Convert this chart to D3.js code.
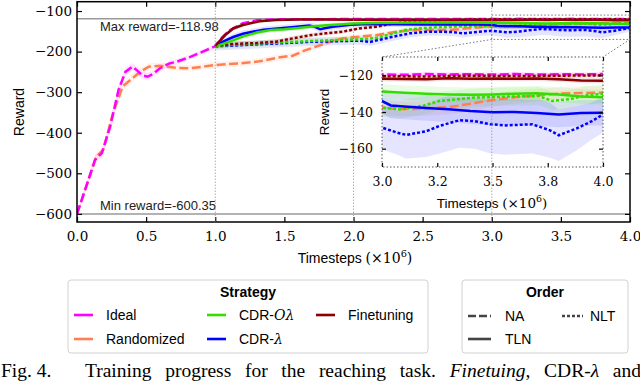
<!DOCTYPE html>
<html>
<head>
<meta charset="utf-8">
<script src="https://cdn.jsdelivr.net/npm/d3@7"></script>
<style>
  body { margin: 0; background: #fff; }
  svg { display: block; }
</style>
</head>
<body>
<svg width="640" height="381"></svg>
<script>
// [timesteps (x1e6), mean reward, spread]
const ideal = [[0.00,-600,4],[0.05,-549,8],[0.10,-498,10],[0.13,-467,10],[0.18,-450,10],[0.24,-385,12],[0.30,-295,12],[0.35,-250,10],[0.40,-237,9],[0.43,-245,9],[0.47,-258,9],[0.51,-262,9],[0.55,-255,8],[0.60,-241,8],[0.67,-229,7],[0.72,-225,7],[0.82,-213,6],[0.91,-200,6],[1.00,-187,5],[1.05,-165,4],[1.10,-148,4],[1.20,-130,3],[1.30,-123,2],[1.40,-121,2],[1.60,-120,1.5],[1.80,-120,1.5],[2.00,-119.6,1.5],[2.50,-119.5,1.5],[3.00,-119.5,1.2],[3.10,-119.7,1.2],[3.20,-119.3,1.2],[3.30,-119.5,1.2],[3.40,-119.4,1.2],[3.50,-119.6,1.2],[3.60,-119.3,1.2],[3.70,-119.6,1.2],[3.80,-119.4,1.2],[3.90,-119.5,1.2],[4.00,-119.3,1.2]];
const randomized = [[0.00,-600,4],[0.07,-530,8],[0.14,-459,10],[0.19,-442,10],[0.26,-352,12],[0.33,-286,12],[0.40,-266,10],[0.46,-249,9],[0.52,-237,8],[0.60,-235,8],[0.72,-240,8],[0.82,-241,8],[0.91,-237,8],[1.00,-233,8],[1.18,-229,8],[1.32,-224,8],[1.45,-215,8],[1.56,-210,8],[1.65,-197,8],[1.76,-184,7],[1.85,-173,7],[1.93,-167,6],[2.05,-163,6],[2.17,-159,6],[2.31,-151,5],[2.46,-146,5],[2.60,-147,5],[2.72,-146,5],[2.85,-142,5],[3.00,-137.6,4],[3.10,-138.5,4],[3.20,-138,4],[3.30,-137.4,4],[3.40,-135.5,4],[3.50,-133.5,3.5],[3.60,-132,3.5],[3.70,-131,3.5],[3.80,-130,3.5],[3.90,-129.6,3.5],[4.00,-129.5,3.5]];
const finetuneTLN = [[1.00,-186,6],[1.07,-160,6],[1.13,-143,5],[1.20,-134.5,4],[1.32,-125,3],[1.44,-122,2],[1.60,-121,2],[1.80,-121,2],[2.00,-121.5,2],[2.50,-121.5,2],[3.00,-121.8,1.5],[3.10,-122,1.5],[3.20,-122.1,1.5],[3.30,-121.6,1.5],[3.40,-121.8,1.5],[3.50,-121.7,1.5],[3.60,-121.9,1.5],[3.70,-121.7,1.5],[3.80,-122.2,1.5],[3.90,-122.8,1.5],[4.00,-123,1.5]];
const finetuneNLT = [[1.00,-186,6],[1.10,-182,6],[1.20,-180,6],[1.30,-179,6],[1.44,-175.5,6],[1.55,-168,6],[1.68,-160,5],[1.80,-155,5],[1.92,-151,5],[2.04,-143,4],[2.17,-138.6,4],[2.29,-130.5,3],[2.41,-126.4,3],[2.53,-124,2],[2.70,-122,2],[2.85,-121,1.5],[3.00,-120.5,1.2],[3.20,-120.6,1.2],[3.40,-120.2,1.2],[3.60,-120.4,1.2],[3.80,-120.2,1.2],[4.00,-120,1.2]];
const cdrOTLN = [[1.00,-187,8],[1.10,-176,8],[1.20,-163,7],[1.30,-153,7],[1.40,-147,6],[1.50,-145,6],[1.60,-142,6],[1.70,-138,5],[1.80,-135,5],[1.90,-133,5],[2.00,-131,4],[2.20,-129,4],[2.50,-128.5,4],[2.80,-128.5,4],[3.00,-128.8,4],[3.10,-129.5,4],[3.20,-130,4],[3.30,-130.4,4],[3.40,-130.6,4],[3.50,-130.4,4],[3.60,-130,4],[3.70,-129.8,4],[3.80,-130.5,4],[3.90,-131.5,4],[4.00,-132,4]];
const cdrONLT = [[1.00,-186,8],[1.20,-182,8],[1.44,-178,8],[1.68,-174,8],[1.92,-171,8],[2.04,-170,8],[2.17,-166,7],[2.29,-155,7],[2.37,-147,6],[2.48,-142.7,6],[2.60,-140,5],[2.72,-138.6,5],[2.85,-137.5,5],[3.00,-137.6,5],[3.08,-138.6,5],[3.19,-136.4,5],[3.26,-134,5],[3.41,-132.2,5],[3.56,-131.6,5],[3.71,-131.3,5],[3.77,-134,5],[3.85,-133,5],[3.92,-131,5],[4.00,-130,5]];
const cdrTLN = [[1.00,-186,8],[1.06,-175,8],[1.13,-164,8],[1.20,-156,8],[1.27,-151,8],[1.35,-146,8],[1.47,-142.5,8],[1.57,-139.5,8],[1.68,-135.5,8],[1.72,-139,8],[1.76,-145,8],[1.80,-142,8],[1.85,-138.5,8],[1.98,-134,7],[2.10,-132,7],[2.30,-132.5,7],[2.50,-133,7],[2.70,-133,7],[2.90,-133.5,7],[3.00,-134,7],[3.04,-136.4,7],[3.10,-137,7],[3.20,-137.8,7],[3.30,-138.5,7],[3.40,-139.5,7],[3.50,-140.2,7],[3.60,-140,7],[3.70,-140.6,7],[3.80,-141.3,7],[3.90,-140.5,7],[4.00,-140.4,7]];
const cdrNLT = [[1.00,-187,10],[1.20,-184,10],[1.44,-180,10],[1.68,-176,10],[1.80,-175,10],[1.92,-174,10],[2.04,-173,10],[2.12,-176,10],[2.20,-170,10],[2.29,-163,10],[2.41,-155,10],[2.53,-151,10],[2.65,-151,10],[2.72,-152,10],[2.79,-155,10],[2.91,-151,10],[3.00,-148.5,12],[3.07,-151.3,12],[3.11,-152.5,13],[3.20,-150.5,14],[3.26,-147.6,15],[3.35,-144.5,15],[3.42,-145,15],[3.49,-146.7,16],[3.56,-147.3,16],[3.68,-146.7,16],[3.76,-150,15],[3.80,-152.7,14],[3.88,-149,12],[3.95,-145,10],[4.00,-141.3,10]];

const maxReward = -118.98, minReward = -600.35;
const xTicks = [0, 0.5, 1, 1.5, 2, 2.5, 3, 3.5, 4];
const yTicks = [-100, -200, -300, -400, -500, -600];
const insetXTicks = [3, 3.25, 3.5, 3.75, 4];
const insetXLabels = ["3.0", "3.2", "3.5", "3.8", "4.0"];
const insetYTicks = [-120, -140, -160];
const phaseLines = [1, 2, 3];

const strategyColor = {
  "Ideal": "#ff00ff", "Randomized": "#ff7f50", "CDR-Oλ": "#33dd00",
  "CDR-λ": "#0000ff", "Finetuning": "#8b0000"
};
const orderDash = { "NA": "9,3.5", "TLN": null, "NLT": "3,2" };

const series = [
  { strategy: "Randomized", order: "NA", data: randomized },
  { strategy: "Ideal", order: "NA", data: ideal },
  { strategy: "CDR-λ", order: "NLT", data: cdrNLT },
  { strategy: "CDR-Oλ", order: "NLT", data: cdrONLT },
  { strategy: "Finetuning", order: "NLT", data: finetuneNLT },
  { strategy: "CDR-λ", order: "TLN", data: cdrTLN },
  { strategy: "CDR-Oλ", order: "TLN", data: cdrOTLN },
  { strategy: "Finetuning", order: "TLN", data: finetuneTLN }
];

const svg = d3.select("svg");
const serif = "DejaVu Serif", sans = "Liberation Sans, Arial, sans-serif";

const x = d3.scaleLinear().domain([0, 4]).range([77, 630]);
const y = d3.scaleLinear().domain([-620, -77]).range([222, 1.7]);
const ix = d3.scaleLinear().domain([3, 4]).range([382, 603]);
const iy = d3.scaleLinear().domain([-170, -110]).range([167, 57]);

const defs = svg.append("defs");
defs.append("clipPath").attr("id", "clipMain").append("rect")
  .attr("x", x(0)).attr("y", y(-77)).attr("width", x(4) - x(0)).attr("height", y(-620) - y(-77));
defs.append("clipPath").attr("id", "clipInset").append("rect")
  .attr("x", ix(3)).attr("y", iy(-110)).attr("width", ix(4) - ix(3)).attr("height", iy(-170) - iy(-110));

function drawSeries(g, xs, ys, lw) {
  const area = d3.area().x(d => xs(d[0])).y0(d => ys(d[1] - d[2])).y1(d => ys(d[1] + d[2]));
  const line = d3.line().x(d => xs(d[0])).y(d => ys(d[1]));
  g.selectAll("path.band").data(series).join("path")
    .attr("class", "band")
    .attr("d", d => area(d.data))
    .attr("fill", d => strategyColor[d.strategy])
    .attr("fill-opacity", 0.1);
  g.selectAll("path.line").data(series).join("path")
    .attr("class", "line")
    .attr("d", d => line(d.data))
    .attr("fill", "none")
    .attr("stroke", d => strategyColor[d.strategy])
    .attr("stroke-width", lw)
    .attr("stroke-dasharray", d => orderDash[d.order]);
}

// main plot
const main = svg.append("g").attr("clip-path", "url(#clipMain)");
main.selectAll("line.ref").data([maxReward, minReward]).join("line")
  .attr("x1", x(0)).attr("x2", x(4))
  .attr("y1", d => y(d)).attr("y2", d => y(d))
  .attr("stroke", "#9a9a9a").attr("stroke-width", 1.5);
drawSeries(main, x, y, 2.5);

svg.append("text").attr("x", 100).attr("y", 31)
  .attr("font-family", sans).attr("font-size", 13).attr("fill", "#222")
  .text("Max reward=" + maxReward.toFixed(2));
svg.append("text").attr("x", 100).attr("y", 210)
  .attr("font-family", sans).attr("font-size", 13).attr("fill", "#222")
  .text("Min reward=" + minReward.toFixed(2));

function styleAxis(g, size) {
  g.select(".domain").remove();
  g.selectAll(".tick line").attr("stroke", "#000").attr("stroke-width", 1.2);
  g.selectAll(".tick text").attr("font-family", serif).attr("font-size", size).attr("fill", "#000");
}

svg.append("g").attr("transform", `translate(0,${y(-620)})`)
  .call(d3.axisBottom(x).tickValues(xTicks).tickFormat(d3.format(".1f")).tickSizeInner(-5).tickSizeOuter(0).tickPadding(9.4))
  .call(g => styleAxis(g, 13.5));
svg.append("g").attr("transform", `translate(0,${y(-77)})`)
  .call(d3.axisTop(x).tickValues(xTicks).tickFormat("").tickSizeInner(-5).tickSizeOuter(0))
  .call(g => styleAxis(g, 13.5));
svg.append("g").attr("transform", `translate(${x(0)},0)`)
  .call(d3.axisLeft(y).tickValues(yTicks).tickFormat(d3.format("d")).tickSizeInner(-5).tickSizeOuter(0).tickPadding(5))
  .call(g => styleAxis(g, 13.5));
svg.append("g").attr("transform", `translate(${x(4)},0)`)
  .call(d3.axisRight(y).tickValues(yTicks).tickFormat("").tickSizeInner(-5).tickSizeOuter(0))
  .call(g => styleAxis(g, 13.5));

svg.append("rect")
  .attr("x", x(0)).attr("y", y(-77)).attr("width", x(4) - x(0)).attr("height", y(-620) - y(-77))
  .attr("fill", "none").attr("stroke", "#000").attr("stroke-width", 1.5);

function timeLabel(cx, cy, size) {
  const t = svg.append("text").attr("x", cx).attr("y", cy)
    .attr("text-anchor", "middle").attr("font-size", size).attr("fill", "#000");
  t.append("tspan").attr("font-family", sans).text("Timesteps ");
  t.append("tspan").attr("font-family", serif).text("(×10");
  t.append("tspan").attr("font-family", serif).attr("font-size", size * 0.7).attr("dy", -size * 0.42).text("6");
  t.append("tspan").attr("font-family", serif).attr("dy", size * 0.42).text(")");
}
function rewardLabel(cx, cy, size) {
  svg.append("text").attr("transform", `translate(${cx},${cy}) rotate(-90)`)
    .attr("text-anchor", "middle").attr("font-family", sans).attr("font-size", size)
    .text("Reward");
}
timeLabel(355, 263, 14);
rewardLabel(24, 112, 14);

// zoom box + connectors
const dotted = "1.5,2";
svg.append("rect")
  .attr("x", x(3)).attr("y", y(-110)).attr("width", x(4) - x(3)).attr("height", y(-170) - y(-110))
  .attr("fill", "none").attr("stroke", "#777").attr("stroke-width", 1).attr("stroke-dasharray", dotted);
svg.selectAll("line.conn").data([[3, 3], [4, 4]]).join("line")
  .attr("x1", d => x(d[0])).attr("y1", y(-170))
  .attr("x2", d => ix(d[1])).attr("y2", iy(-110))
  .attr("stroke", "#777").attr("stroke-width", 1).attr("stroke-dasharray", dotted);

// inset
svg.append("rect")
  .attr("x", ix(3)).attr("y", iy(-110)).attr("width", ix(4) - ix(3)).attr("height", iy(-170) - iy(-110))
  .attr("fill", "#fff");
const inset = svg.append("g").attr("clip-path", "url(#clipInset)");
drawSeries(inset, ix, iy, 2.5);

svg.append("g").attr("transform", `translate(0,${iy(-170)})`)
  .call(d3.axisBottom(ix).tickValues(insetXTicks).tickFormat((d, i) => insetXLabels[i]).tickSizeInner(-4).tickSizeOuter(0).tickPadding(10))
  .call(g => styleAxis(g, 12.5));
svg.append("g").attr("transform", `translate(0,${iy(-110)})`)
  .call(d3.axisTop(ix).tickValues(insetXTicks).tickFormat("").tickSizeInner(-4).tickSizeOuter(0))
  .call(g => styleAxis(g, 12.5));
svg.append("g").attr("transform", `translate(${ix(3)},0)`)
  .call(d3.axisLeft(iy).tickValues(insetYTicks).tickFormat(d3.format("d")).tickSizeInner(-4).tickSizeOuter(0).tickPadding(9))
  .call(g => styleAxis(g, 12.5));
svg.append("g").attr("transform", `translate(${ix(4)},0)`)
  .call(d3.axisRight(iy).tickValues(insetYTicks).tickFormat("").tickSizeInner(-4).tickSizeOuter(0))
  .call(g => styleAxis(g, 12.5));
svg.append("rect")
  .attr("x", ix(3)).attr("y", iy(-110)).attr("width", ix(4) - ix(3)).attr("height", iy(-170) - iy(-110))
  .attr("fill", "none").attr("stroke", "#555").attr("stroke-width", 1).attr("stroke-dasharray", dotted);
timeLabel(492, 208, 13.5);
rewardLabel(329, 112, 13.5);

// phase boundaries
svg.selectAll("line.phase").data(phaseLines).join("line")
  .attr("x1", d => x(d)).attr("x2", d => x(d))
  .attr("y1", y(-77)).attr("y2", y(-620))
  .attr("stroke", "#888").attr("stroke-width", 1).attr("stroke-dasharray", "1,2");

// legends
function legendBox(x0, x1, title) {
  svg.append("rect").attr("x", x0).attr("y", 280).attr("width", x1 - x0).attr("height", 73)
    .attr("rx", 3).attr("fill", "#fff").attr("stroke", "#d0d0d0").attr("stroke-width", 1);
  svg.append("text").attr("x", (x0 + x1) / 2).attr("y", 297).attr("text-anchor", "middle")
    .attr("font-family", sans).attr("font-size", 14).attr("font-weight", "bold").text(title);
}
function legendEntry(lx, ly, len, tx, color, dash, label) {
  svg.append("line").attr("x1", lx).attr("x2", lx + len).attr("y1", ly).attr("y2", ly)
    .attr("stroke", color).attr("stroke-width", 2.6).attr("stroke-dasharray", dash);
  const t = svg.append("text").attr("x", tx).attr("y", ly + 5)
    .attr("font-family", sans).attr("font-size", 14).attr("fill", "#000");
  if (label === "CDR-Oλ") {
    t.append("tspan").text("CDR-");
    t.append("tspan").attr("font-family", serif).attr("font-style", "italic").text("Oλ");
  } else if (label === "CDR-λ") {
    t.append("tspan").text("CDR-");
    t.append("tspan").attr("font-family", serif).attr("font-style", "italic").text("λ");
  } else t.text(label);
}
legendBox(68, 428, "Strategy");
const stratPos = [[74, 315], [74, 339], [207, 315], [207, 339], [316, 315]];
Object.keys(strategyColor).forEach((s, i) =>
  legendEntry(stratPos[i][0], stratPos[i][1], 19, stratPos[i][0] + 32, strategyColor[s], null, s));
legendBox(462, 628, "Order");
legendEntry(468, 316, 23, 505, "#444", "8,3", "NA");
legendEntry(562, 316, 21, 590, "#444", "3,2", "NLT");
legendEntry(468, 339, 23, 505, "#444", null, "TLN");

// caption
const capFont = "Liberation Serif, serif";
svg.append("text").attr("x", 1).attr("y", 377)
  .attr("font-family", capFont).attr("font-size", 19.5).text("Fig. 4.");
const cap = svg.append("text").attr("x", 85).attr("y", 377)
  .attr("font-family", capFont).attr("font-size", 19.5);
cap.append("tspan").text("Training progress for the reaching task. ");
cap.append("tspan").attr("font-style", "italic").text("Finetuing");
cap.append("tspan").text(", CDR-");
cap.append("tspan").attr("font-style", "italic").text("λ");
cap.append("tspan").text(" and");
const capLen = cap.node().getComputedTextLength();
cap.attr("word-spacing", Math.max(0, (556 - capLen) / 8));
</script>
</body>
</html>
